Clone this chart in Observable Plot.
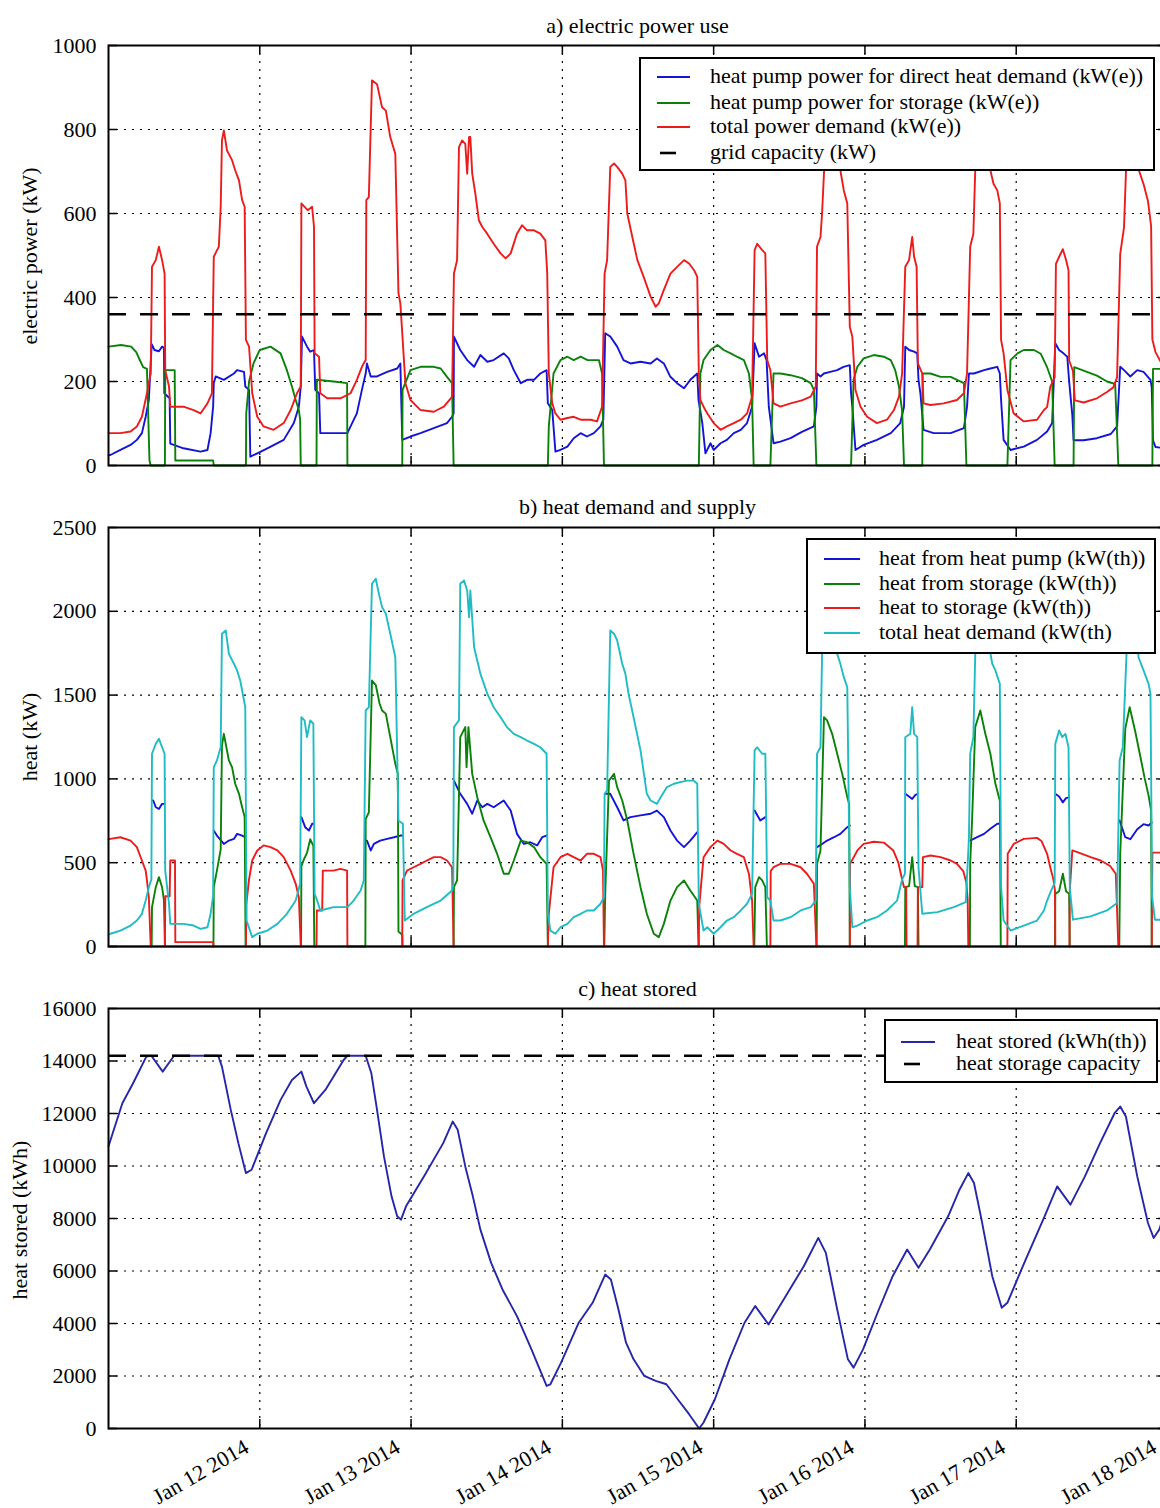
<!DOCTYPE html>
<html><head><meta charset="utf-8">
<script src="https://cdn.jsdelivr.net/npm/d3@7"></script>
<script src="https://cdn.jsdelivr.net/npm/@observablehq/plot@0.6"></script>
<style>
html,body{margin:0;padding:0;background:#fff;overflow:hidden;}
#page{position:relative;width:1160px;height:1508px;overflow:hidden;font-family:"Liberation Serif","Times New Roman",serif;color:#000;}
.panel{position:absolute;left:0;width:1167px;}
.title{position:absolute;left:108px;width:1059px;text-align:center;font-size:22px;line-height:24px;white-space:nowrap;}
.ylab{position:absolute;font-size:22px;line-height:24px;white-space:nowrap;transform:translate(-50%,-50%) rotate(-90deg);}
.legend{position:absolute;background:#fff;border:2px solid #000;box-sizing:border-box;font-size:22px;}
.legend .txt{position:absolute;white-space:nowrap;line-height:24px;}
.legend svg{position:absolute;left:0;top:0;overflow:visible;}
</style></head><body><div id="page"></div>
<script>
// ---------- data (time in hours since 2014-01-11 00:00 UTC) ----------
const dayTicks = ["2014-01-12","2014-01-13","2014-01-14","2014-01-15","2014-01-16","2014-01-17","2014-01-18"];
const dayLabels = ["Jan 12 2014","Jan 13 2014","Jan 14 2014","Jan 15 2014","Jan 16 2014","Jan 17 2014","Jan 18 2014"];
const yTicksPower = [0,200,400,600,800,1000];
const yTicksHeat = [0,500,1000,1500,2000,2500];
const yTicksStored = [0,2000,4000,6000,8000,10000,12000,14000,16000];
const gridCapacityKW = 360;
const storageCapacityKWh = 14200;

const heatPumpDirectKWe = [[0,25],[0.3,25],[1.9,37],[3.5,49],[4.5,61],[5.3,77],[5.9,116],[6.4,156],[6.85,289],[7.3,275],[8.0,272],[8.5,283],[8.8,280],[8.85,172],[9.7,160],[9.8,52],[11.9,41],[14.6,33],[15.7,37],[16.2,77],[16.6,140],[16.7,196],[17.0,212],[18.3,204],[19.9,219],[20.4,227],[21.5,223],[21.7,188],[22.3,180],[22.5,21],[23.6,29],[25.2,41],[27.8,61],[29.4,101],[30.2,140],[30.5,188],[30.7,307],[31.5,283],[32.0,271],[32.6,275],[32.8,180],[33.4,172],[33.6,77],[37.9,77],[38.4,93],[39.4,124],[40.2,180],[40.8,219],[41.0,243],[41.6,212],[42.6,212],[44.2,223],[45.8,231],[46.3,243],[46.6,61],[47.9,69],[49.5,77],[51.6,89],[53.7,101],[54.5,116],[54.75,124],[54.8,307],[55.8,275],[56.9,251],[58.0,235],[59.0,263],[60.1,247],[61.1,251],[62.7,267],[63.5,255],[64.3,227],[65.4,196],[66.4,204],[67.5,204],[68.5,219],[69.5,227],[69.7,148],[70.4,132],[70.9,33],[71.7,37],[72.8,45],[73.8,65],[74.9,77],[75.9,69],[77.0,77],[78.05,93],[78.5,109],[78.8,315],[79.6,307],[80.7,283],[81.7,251],[82.8,243],[84.4,247],[86.0,243],[87.0,255],[88.1,243],[89.1,212],[90.2,196],[91.3,184],[92.3,204],[93.4,219],[93.6,156],[94.2,101],[94.7,29],[95.5,53],[96.0,37],[97.1,53],[98.1,61],[99.2,77],[100.3,85],[101.3,101],[102.1,140],[102.5,291],[103.2,259],[104.0,267],[104.4,251],[104.75,140],[105.5,53],[106.6,57],[108.2,65],[110.0,80],[111.9,93],[112.3,140],[112.4,219],[112.95,212],[113.5,219],[114.5,223],[115.6,227],[116.6,235],[117.6,239],[117.8,172],[118.0,140],[118.5,37],[119.8,49],[121.9,61],[124.1,77],[125.6,101],[126.2,140],[126.4,283],[127.0,275],[127.8,271],[128.3,267],[128.5,204],[128.8,172],[129.3,85],[130.9,77],[133.6,77],[135.7,89],[136.2,140],[136.5,219],[137.3,219],[138.9,227],[139.9,231],[141.0,235],[141.4,219],[141.6,156],[142.0,61],[143.1,37],[145.2,45],[147.3,61],[148.9,81],[149.7,101],[150.2,291],[150.8,275],[151.5,267],[152.1,259],[152.4,200],[152.9,120],[153.1,60],[154.7,60],[156.8,65],[159.0,75],[160.0,93],[160.5,235],[161.1,227],[162.1,212],[163.2,227],[164.2,223],[165.3,204],[165.5,186],[165.7,60],[166.1,44],[168,40]];

const heatPumpStorageKWe = [[0,283],[2.0,287],[3.6,283],[4.4,270],[5.0,250],[5.5,234],[6.1,230],[6.3,120],[6.5,12],[6.7,0],[8.95,0],[9.0,227],[10.5,227],[10.6,12],[16.6,12],[16.7,0],[21.8,0],[21.85,124],[22.3,200],[23.0,243],[24.0,275],[25.7,283],[27.3,267],[28.3,227],[29.1,188],[29.7,156],[30.2,132],[30.4,110],[30.5,0],[33.0,0],[33.05,204],[35.7,200],[37.85,196],[37.9,0],[46.6,0],[46.65,180],[47.9,227],[49.5,235],[51.6,235],[52.7,231],[53.7,211],[54.5,196],[54.75,0],[69.7,0],[69.85,93],[70.6,219],[71.7,251],[72.8,259],[73.8,251],[74.9,259],[76.0,251],[77.0,251],[77.8,251],[78.3,219],[78.6,0],[93.65,0],[93.9,219],[94.4,251],[95.5,275],[96.6,287],[97.6,275],[98.7,267],[99.7,259],[100.8,251],[101.6,219],[102.1,156],[102.35,0],[105.0,0],[105.5,219],[106.6,219],[108.2,215],[110.0,208],[111.4,196],[111.9,180],[112.3,0],[117.8,0],[118.2,204],[118.8,235],[119.8,255],[121.4,263],[123.0,259],[124.1,251],[124.8,227],[125.4,188],[125.9,130],[126.2,0],[129.1,0],[129.15,219],[130.4,219],[132.0,211],[133.6,211],[134.6,204],[135.7,196],[136.1,0],[142.6,0],[143.1,251],[144.2,267],[145.2,275],[146.8,275],[147.9,266],[148.9,234],[149.7,200],[150.1,0],[153.1,0],[153.2,234],[154.7,226],[156.8,214],[158.4,200],[159.7,194],[160.2,0],[165.6,0],[165.7,230],[168,230]];

const totalPowerKWe = [[0,77],[0.3,77],[1.9,77],[3.5,81],[4.5,93],[5.3,116],[6.1,172],[6.7,219],[6.9,473],[7.5,489],[8.0,521],[8.5,489],[8.9,457],[9.0,227],[9.6,188],[9.8,140],[11.9,140],[13.5,132],[14.6,124],[15.7,148],[16.4,172],[16.7,497],[17.5,521],[17.8,616],[18.0,774],[18.3,798],[18.8,750],[19.6,727],[20.1,703],[20.7,679],[21.2,632],[21.6,616],[21.8,299],[22.3,283],[22.8,172],[23.6,116],[24.6,93],[26.2,85],[27.8,101],[28.9,132],[29.9,172],[30.5,188],[30.6,624],[31.1,616],[31.6,608],[32.3,616],[32.6,568],[32.7,267],[33.4,259],[33.6,172],[34.7,160],[36.8,160],[38.4,172],[39.4,204],[40.2,235],[40.8,251],[40.9,632],[41.3,639],[41.8,917],[42.6,908],[43.4,853],[44.0,845],[44.7,782],[45.5,742],[46.0,410],[46.3,386],[46.6,315],[47.1,196],[47.9,156],[49.5,132],[51.6,128],[53.2,140],[54.3,160],[54.5,164],[54.8,457],[55.3,489],[55.6,758],[56.1,774],[56.6,766],[56.9,695],[57.2,782],[57.4,782],[57.7,695],[58.2,647],[58.75,584],[59.3,568],[60.07,552],[61.1,528],[62.2,505],[63.0,493],[63.8,505],[64.8,552],[65.6,572],[66.4,560],[67.5,560],[68.5,552],[69.3,536],[69.6,457],[69.85,219],[70.4,148],[70.9,124],[71.7,109],[72.8,113],[73.8,116],[74.9,109],[76.5,109],[77.5,105],[78.3,140],[78.7,457],[79.1,489],[79.6,711],[80.2,719],[80.7,711],[81.5,695],[82.0,679],[82.3,600],[83.1,544],[83.9,489],[84.9,449],[86.0,402],[86.8,378],[87.3,386],[88.1,418],[89.15,457],[90.2,473],[91.3,489],[92.1,481],[92.9,465],[93.4,449],[93.65,219],[93.9,156],[94.4,140],[95.0,124],[96.0,101],[97.1,85],[98.1,93],[99.2,101],[100.3,109],[101.3,124],[102.1,164],[102.5,513],[102.9,528],[103.7,513],[104.2,505],[104.5,251],[105.0,227],[105.5,148],[106.6,140],[108.2,148],[110.0,155],[111.4,164],[112.2,188],[112.4,521],[112.95,544],[113.2,600],[113.5,695],[113.8,800],[114.5,850],[115.2,810],[115.8,740],[116.1,703],[116.65,655],[117.2,624],[117.6,330],[118.0,307],[118.5,180],[119.3,140],[120.35,116],[121.9,101],[123.5,109],[124.6,132],[125.4,164],[125.9,219],[126.4,473],[127.0,489],[127.5,544],[127.8,497],[128.2,473],[128.4,243],[129.1,219],[129.3,148],[130.4,144],[132.5,148],[134.6,156],[135.7,172],[136.2,219],[136.7,521],[137.2,552],[137.5,703],[138.0,820],[138.6,860],[139.3,790],[139.9,703],[140.4,671],[141.0,655],[141.4,624],[141.6,299],[142.0,267],[142.6,180],[143.6,124],[145.2,105],[147.3,109],[148.4,132],[148.9,139],[149.4,187],[150.1,210],[150.3,480],[150.9,500],[151.4,515],[151.9,490],[152.3,465],[152.4,250],[153.0,225],[153.3,155],[154.7,150],[156.8,160],[158.4,175],[159.4,186],[160.0,210],[160.5,504],[161.1,567],[161.6,780],[162.2,840],[162.8,790],[163.3,710],[164.2,670],[164.9,630],[165.4,570],[165.6,300],[166.1,270],[167,245],[168,235]];

// heat from heat pump: only the stretches where it differs from total demand (null = gap)
const heatFromPumpKWth = [[6.9,871],[7.1,871],[7.5,831],[8.0,821],[8.5,851],[8.9,851],null,[16.7,692],[17.2,662],[18.3,612],[19.1,632],[19.9,642],[20.4,672],[21.2,662],[21.7,652],null,[30.6,772],[31.2,712],[31.8,692],[32.3,732],[32.6,732],null,[40.8,632],[41.0,632],[41.6,573],[42.1,612],[43.1,632],[44.2,642],[45.3,652],[46.3,662],[46.6,662],null,[54.8,990],[55.8,911],[56.9,851],[57.7,792],[58.5,871],[59.3,831],[60.1,851],[61.1,831],[62.7,871],[63.8,811],[64.8,672],[65.9,612],[66.9,622],[68.0,603],[68.8,652],[69.5,662],null,[78.8,911],[79.6,911],[80.7,831],[81.7,752],[82.8,772],[84.4,782],[86.0,792],[87.0,811],[88.1,772],[89.15,692],[90.2,632],[91.3,593],[92.3,632],[93.4,682],null,[102.5,811],[103.4,752],[104.2,772],null,[112.4,593],[113.2,612],[114.0,632],[115.1,652],[116.1,672],[117.2,712],[117.6,722],null,[126.4,911],[127.0,895],[127.5,880],[128.0,905],[128.4,911],null,[136.7,632],[137.8,652],[138.9,672],[139.9,702],[141.0,732],[141.4,732],null,[150.2,911],[150.8,895],[151.4,860],[151.9,885],[152.4,890],null,[160.4,752],[161.3,652],[162.1,640],[163.2,700],[164.2,730],[165.0,722],[165.5,740]];

const heatFromStorageKWth = [[0,0],[6.85,0],[6.9,235],[7.5,354],[8.0,414],[8.5,354],[8.8,274],[8.95,0],[16.65,0],[16.7,354],[17.2,453],[17.8,580],[18.0,1200],[18.3,1269],[19.1,1110],[19.6,1070],[20.1,971],[20.7,911],[21.2,831],[21.6,772],[21.75,0],[30.55,0],[30.6,480],[31.0,520],[31.5,560],[32.0,640],[32.5,600],[32.65,0],[40.75,0],[40.8,760],[41.3,800],[41.8,1587],[42.4,1560],[43.0,1450],[43.4,1408],[44.0,1388],[44.7,1249],[45.5,1090],[45.9,1030],[46.0,90],[46.6,70],[46.65,0],[54.75,0],[54.8,354],[55.3,394],[55.8,1249],[56.6,1309],[56.8,1070],[57.1,1309],[57.7,1030],[58.5,891],[59.5,752],[60.6,652],[61.65,553],[62.7,434],[63.5,434],[64.3,513],[65.4,632],[66.4,622],[67.5,593],[68.5,533],[69.5,493],[69.7,0],[78.65,0],[78.8,314],[79.4,990],[80.2,1030],[80.7,951],[81.5,871],[82.3,752],[83.3,553],[84.4,354],[85.4,195],[86.5,76],[87.3,56],[88.1,135],[89.15,274],[90.2,354],[91.3,394],[92.3,334],[93.4,274],[93.6,0],[102.45,0],[102.6,354],[103.2,414],[103.7,394],[104.2,354],[104.45,0],[112.35,0],[112.4,493],[112.95,573],[113.5,1368],[114.0,1349],[114.8,1269],[115.6,1150],[116.4,1030],[117.2,891],[117.5,851],[117.6,0],[126.35,0],[126.4,354],[127.0,360],[127.5,533],[127.9,360],[128.4,354],[128.5,0],[136.65,0],[136.7,500],[137.0,752],[137.5,1309],[138.3,1408],[139.1,1269],[139.9,1150],[140.7,971],[141.4,870],[141.55,0],[150.15,0],[150.2,314],[150.8,330],[151.4,434],[151.9,330],[152.4,314],[152.5,0],[160.35,0],[160.5,553],[161.3,1300],[162.0,1428],[162.9,1280],[163.6,1150],[164.4,1000],[165.0,900],[165.4,811],[165.5,0],[168,0]];

const heatToStorageKWth = [[0,640],[0.3,642],[1.9,652],[3.5,632],[4.5,593],[5.3,513],[5.9,453],[6.1,394],[6.4,294],[6.7,0],[8.95,0],[9.0,300],[9.7,300],[9.8,513],[10.55,513],[10.6,26],[16.6,26],[16.65,0],[21.8,0],[21.85,250],[22.3,400],[22.8,513],[23.6,573],[24.6,603],[25.7,593],[26.8,573],[27.8,533],[28.9,453],[29.7,374],[30.2,294],[30.5,0],[33.0,0],[33.05,215],[33.9,215],[34.0,453],[35.7,453],[36.8,463],[37.85,453],[37.9,0],[46.6,0],[46.65,394],[47.35,453],[48.4,473],[49.5,493],[50.5,513],[51.6,533],[52.7,533],[53.7,513],[54.5,473],[54.75,0],[69.7,0],[69.85,195],[70.6,473],[71.7,533],[72.8,553],[73.8,533],[74.9,513],[75.9,553],[77.0,553],[78.05,533],[78.45,453],[78.6,0],[93.65,0],[93.7,235],[94.4,533],[95.5,593],[96.6,632],[97.6,612],[98.7,573],[99.7,553],[100.8,533],[101.6,433],[102.1,274],[102.35,0],[105.0,0],[105.05,450],[105.5,473],[106.6,493],[108.2,493],[109.8,473],[110.8,434],[111.9,374],[112.3,0],[117.6,0],[117.65,493],[118.8,573],[119.8,612],[121.4,625],[123.0,620],[124.5,573],[125.3,500],[125.9,400],[126.2,354],[126.55,354],[126.6,0],[128.35,0],[128.4,354],[129.1,354],[129.2,533],[130.4,543],[132.0,533],[133.6,513],[134.6,493],[135.6,450],[136.1,380],[136.3,280],[136.4,0],[142.6,0],[142.65,553],[143.6,612],[145.2,642],[147.3,648],[148.0,630],[148.9,553],[149.4,473],[149.9,400],[150.15,334],[150.2,0],[152.45,0],[152.5,334],[152.9,573],[153.7,563],[155.8,533],[157.4,513],[158.9,480],[159.8,434],[160.2,0],[165.5,0],[165.6,560],[168,560]];

const totalHeatDemandKWth = [[0,70],[0.3,76],[1.9,95],[3.5,125],[4.5,155],[5.3,195],[5.9,274],[6.4,354],[6.8,400],[6.9,1150],[7.5,1209],[8.0,1239],[8.5,1189],[8.9,1150],[9.0,453],[9.6,255],[9.8,135],[11.9,135],[13.5,125],[14.6,105],[15.7,115],[16.2,195],[16.6,300],[16.7,1070],[17.2,1110],[17.8,1189],[18.0,1866],[18.6,1886],[19.1,1746],[19.9,1687],[20.4,1647],[20.9,1587],[21.5,1468],[21.7,1428],[21.9,155],[22.8,56],[23.6,76],[25.2,95],[26.8,135],[28.3,195],[29.7,274],[30.4,374],[30.6,1368],[31.1,1349],[31.5,1249],[32.0,1349],[32.5,1329],[32.7,314],[33.1,274],[33.6,215],[35.7,235],[37.9,235],[38.9,274],[40.0,334],[40.5,394],[40.8,1408],[41.3,1428],[41.8,2164],[42.4,2194],[42.9,2104],[43.4,2025],[44.0,1985],[44.7,1866],[45.5,1726],[46.0,752],[46.7,732],[47.0,155],[48.4,195],[50.5,235],[52.7,274],[54.5,334],[54.7,374],[54.8,1309],[55.6,1349],[55.8,2164],[56.4,2184],[56.9,2124],[57.2,1965],[57.4,2124],[58.0,1786],[58.5,1707],[59.0,1627],[60.1,1508],[61.1,1428],[62.2,1368],[63.2,1309],[64.3,1269],[65.4,1249],[66.4,1229],[67.5,1209],[68.5,1189],[69.5,1150],[69.7,195],[70.1,95],[70.9,76],[71.7,115],[72.8,135],[73.8,175],[74.9,195],[75.9,215],[77.0,215],[78.05,255],[78.6,294],[78.7,911],[79.1,931],[79.6,1886],[80.2,1866],[80.7,1826],[81.5,1687],[82.0,1627],[82.5,1508],[83.3,1368],[84.4,1170],[85.4,911],[86.0,871],[87.0,851],[87.6,891],[88.6,951],[89.7,971],[90.7,981],[91.8,990],[92.85,990],[93.4,971],[93.65,255],[94.4,95],[95.0,115],[96.0,76],[97.1,115],[98.1,155],[99.2,175],[100.3,215],[101.3,255],[102.1,314],[102.5,1170],[102.9,1189],[103.7,1150],[104.2,1150],[104.5,294],[105.0,274],[105.5,155],[106.6,155],[108.2,175],[109.8,215],[111.4,235],[112.2,274],[112.4,1150],[112.95,1189],[113.2,1746],[113.6,2050],[114.3,2150],[115.0,2000],[115.6,1746],[116.1,1687],[116.65,1607],[117.2,1547],[117.6,354],[118.0,115],[118.8,125],[120.35,155],[121.9,175],[123.5,215],[125.1,274],[125.9,400],[126.35,434],[126.4,1249],[127.2,1269],[127.5,1428],[127.8,1269],[128.3,1249],[128.5,473],[129.1,195],[131.5,205],[134.1,235],[136.0,265],[136.5,650],[136.7,1150],[137.2,1249],[137.5,1746],[138.0,2050],[138.6,2150],[139.3,1950],[139.9,1750],[140.2,1687],[140.7,1647],[141.4,1567],[141.6,354],[142.0,155],[143.1,95],[145.2,125],[147.3,155],[148.4,215],[148.9,274],[149.5,330],[150.1,380],[150.2,1209],[150.8,1289],[151.3,1249],[151.8,1269],[152.3,1189],[152.5,350],[153.0,160],[155.8,180],[158.4,215],[160.0,260],[160.4,1110],[160.9,1189],[161.5,1746],[162.0,2050],[162.7,2100],[163.4,1726],[164.2,1647],[165.0,1567],[165.3,1508],[165.55,300],[166.0,160],[168,160]];

const heatStoredKWh = [[0,10750],[2.2,12391],[3.9,13151],[6.0,14165],[6.8,14200],[8.6,13595],[10.4,14200],[17.4,14200],[18.0,13785],[19.4,12138],[20.6,10871],[21.8,9731],[22.7,9857],[25.0,11251],[27.3,12518],[29.1,13278],[30.6,13595],[31.4,13025],[32.6,12391],[34.4,12898],[37.3,14038],[37.9,14200],[40.8,14200],[41.7,13532],[42.6,12138],[43.7,10364],[44.9,8844],[45.8,8083],[46.4,7957],[47.2,8464],[50.2,9667],[53.1,10871],[54.6,11695],[55.4,11377],[56.6,9984],[57.8,8844],[59.0,7577],[60.7,6310],[62.5,5296],[64.8,4282],[67.1,3015],[69.5,1622],[70.1,1685],[71.8,2509],[74.6,4029],[76.8,4789],[78.8,5866],[79.7,5676],[80.9,4536],[82.1,3269],[83.3,2635],[85.0,2002],[86.8,1812],[88.5,1685],[90.3,1115],[92.1,545],[93.7,0],[94.4,228],[96.2,1115],[98.5,2635],[100.9,4029],[102.6,4663],[104.7,3966],[106.8,4789],[110.3,6183],[112.6,7260],[113.8,6690],[115.6,4536],[117.3,2635],[118.2,2319],[119.7,3015],[122.0,4409],[124.4,5803],[126.7,6817],[128.5,6120],[130.3,6817],[133.2,8083],[135.0,9097],[136.4,9730],[137.3,9350],[138.5,7957],[140.2,5803],[141.7,4599],[142.6,4789],[145.5,6436],[148.5,8083],[150.5,9224],[152.6,8527],[154.9,9604],[157.3,10871],[159.6,12011],[160.5,12265],[161.4,11884],[163.2,9604],[164.9,7830],[165.8,7260],[166.7,7577],[167.2,7957],[168,8300]];

// ---------- rendering ----------
const T0 = Date.UTC(2014, 0, 11);
const HOUR = 3600e3;
const W = 1167, ML = 108;
const BLUE = "#1414d8", GREEN = "#0a820a", RED = "#ec1c1c", CYAN = "#1fbcc4", NAVY = "#2626a8";
const tickDates = dayTicks.map(s => new Date(s + "T00:00:00Z"));
const labelOf = new Map(tickDates.map((d, i) => [+d, dayLabels[i]]));

function rows(arr) {
  let seg = 0; const out = [];
  for (const p of arr) {
    if (p === null) { seg++; continue; }
    out.push({t: new Date(T0 + p[0] * HOUR), v: p[1], seg});
  }
  return out;
}

const page = document.getElementById("page");

function panel({top, height, mTop, mBottom, yTicks, lines, hline, xAxis}) {
  const plotW = W - ML, plotH = height - mTop - mBottom;
  const marks = [
    Plot.ruleX(tickDates, {x: d => d, stroke: "#000", strokeWidth: 1.2, strokeDasharray: "2,6"}),
    Plot.ruleY(yTicks.slice(1, -1), {y: d => d, stroke: "#000", strokeWidth: 1.2, strokeDasharray: "2,6"}),
    ...lines.map(l => Plot.line(rows(l.data), {x: "t", y: "v", z: "seg", stroke: l.color, strokeWidth: 1.9})),
  ];
  if (hline != null) marks.push(Plot.ruleY([hline], {y: d => d, stroke: "#000", strokeWidth: 2.6, strokeDasharray: "18,14"}));
  marks.push(
    Plot.ruleX(tickDates, {x: d => d, stroke: "#000", strokeWidth: 1.5, insetTop: plotH - 9}),
    Plot.ruleX(tickDates, {x: d => d, stroke: "#000", strokeWidth: 1.5, insetBottom: plotH - 9}),
    Plot.ruleY(yTicks, {y: d => d, stroke: "#000", strokeWidth: 1.5, insetRight: plotW - 9}),
    Plot.ruleY(yTicks, {y: d => d, stroke: "#000", strokeWidth: 1.5, insetLeft: plotW - 9}),
    Plot.frame({stroke: "#000", strokeWidth: 2}),
    Plot.axisY({ticks: yTicks, tickSize: 0, tickPadding: 12, tickFormat: d => String(d), label: null})
  );
  if (xAxis) marks.push(Plot.axisX({ticks: tickDates, tickSize: 0, tickPadding: 17, tickRotate: -30, dx: -13,
    tickFormat: d => labelOf.get(+d), label: null}));
  const svg = Plot.plot({
    width: W, height, marginLeft: ML, marginRight: 0, marginTop: mTop, marginBottom: mBottom,
    style: {fontFamily: "'Liberation Serif','Times New Roman',serif", fontSize: "22px", color: "#000",
            background: "transparent", maxWidth: "none", overflow: "visible"},
    x: xAxis ? {type: "utc", domain: [new Date(T0), new Date(T0 + 168 * HOUR)]}
             : {type: "utc", domain: [new Date(T0), new Date(T0 + 168 * HOUR)], axis: null},
    y: {domain: [yTicks[0], yTicks[yTicks.length - 1]]},
    marks
  });
  const div = document.createElement("div");
  div.className = "panel"; div.style.top = top + "px"; div.style.height = height + "px";
  div.appendChild(svg); page.appendChild(div);
}

function addText(cls, text, style) {
  const d = document.createElement("div"); d.className = cls; d.textContent = text;
  Object.assign(d.style, style); page.appendChild(d);
}

function legend({left, top, width, height, sx1, sx2, tx, items}) {
  const box = document.createElement("div"); box.className = "legend";
  Object.assign(box.style, {left: left + "px", top: top + "px", width: width + "px", height: height + "px"});
  const ns = "http://www.w3.org/2000/svg";
  const svg = document.createElementNS(ns, "svg");
  svg.setAttribute("width", width); svg.setAttribute("height", height);
  for (const it of items) {
    const ln = document.createElementNS(ns, "line");
    ln.setAttribute("x1", it.dash ? sx1 + 3 : sx1); ln.setAttribute("x2", it.dash ? sx1 + 19 : sx2);
    ln.setAttribute("y1", it.y); ln.setAttribute("y2", it.y);
    ln.setAttribute("stroke", it.color); ln.setAttribute("stroke-width", it.dash ? 2.6 : 2);
    svg.appendChild(ln);
    const t = document.createElement("div"); t.className = "txt"; t.textContent = it.label;
    Object.assign(t.style, {left: tx + "px", top: (it.y - 13) + "px"});
    box.appendChild(t);
  }
  box.appendChild(svg);
  page.appendChild(box);
}

// panel a
panel({top: 0, height: 480, mTop: 45, mBottom: 15, yTicks: yTicksPower, hline: gridCapacityKW,
  lines: [{data: heatPumpDirectKWe, color: BLUE}, {data: heatPumpStorageKWe, color: GREEN}, {data: totalPowerKWe, color: RED}]});
// panel b
panel({top: 480, height: 480, mTop: 47, mBottom: 14, yTicks: yTicksHeat, hline: null,
  lines: [{data: heatFromPumpKWth, color: BLUE}, {data: heatFromStorageKWth, color: GREEN},
          {data: heatToStorageKWth, color: RED}, {data: totalHeatDemandKWth, color: CYAN}]});
// panel c
panel({top: 960, height: 548, mTop: 48, mBottom: 80, yTicks: yTicksStored, hline: storageCapacityKWh,
  lines: [{data: heatStoredKWh, color: NAVY}], xAxis: true});

addText("title", "a) electric power use", {top: "14px"});
addText("title", "b) heat demand and supply", {top: "495px"});
addText("title", "c) heat stored", {top: "977px"});
addText("ylab", "electric power (kW)", {left: "30px", top: "256px"});
addText("ylab", "heat (kW)", {left: "30px", top: "737px"});
addText("ylab", "heat stored (kWh)", {left: "20px", top: "1220px"});

legend({left: 639, top: 57, width: 516, height: 114, sx1: 16, sx2: 49, tx: 69, items: [
  {label: "heat pump power for direct heat demand (kW(e))", color: BLUE, y: 18},
  {label: "heat pump power for storage (kW(e))", color: GREEN, y: 44},
  {label: "total power demand (kW(e))", color: RED, y: 68},
  {label: "grid capacity (kW)", color: "#000", y: 94, dash: true}]});
legend({left: 806, top: 538, width: 350, height: 116, sx1: 16, sx2: 52, tx: 71, items: [
  {label: "heat from heat pump (kW(th))", color: BLUE, y: 19},
  {label: "heat from storage (kW(th))", color: GREEN, y: 44},
  {label: "heat to storage (kW(th))", color: RED, y: 68},
  {label: "total heat demand (kW(th)", color: CYAN, y: 93}]});
legend({left: 884, top: 1019, width: 274, height: 64, sx1: 15, sx2: 49, tx: 70, items: [
  {label: "heat stored (kWh(th))", color: NAVY, y: 21},
  {label: "heat storage capacity", color: "#000", y: 43, dash: true}]});
</script></body></html>
